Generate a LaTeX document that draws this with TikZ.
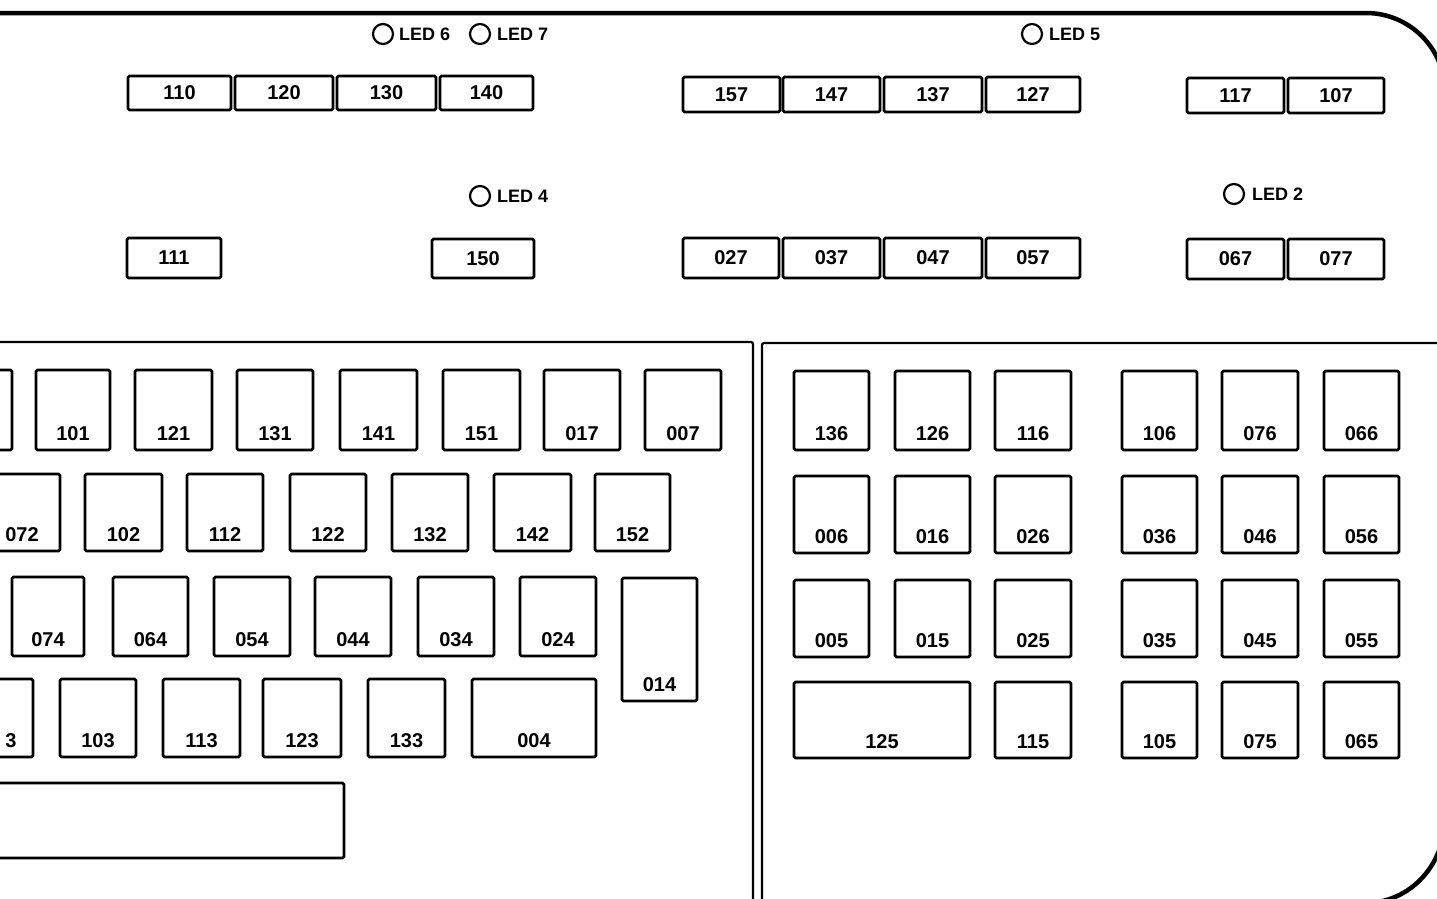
\documentclass[tikz,border=0pt]{standalone}
\usepackage{fontspec}
\setmainfont{Liberation Sans}
\usetikzlibrary{fit}
\tikzset{
 keybox/.style={draw, line width=2.7pt, rounded corners=1.5pt, inner sep=0pt, outer sep=0pt},
 lab/.style={font=\fontsize{20}{20}\selectfont\bfseries, inner sep=0pt, anchor=base},
 flab/.style={font=\fontsize{20}{20}\selectfont\bfseries, inner sep=0pt},
 ledc/.style={draw, circle, line width=2.2pt, minimum size=20pt, inner sep=0pt},
 ledt/.style={font=\fontsize{18}{18}\selectfont\bfseries, inner sep=0pt, anchor=west},
 frameline/.style={line width=4.5pt},
 panel/.style={line width=2.2pt, rounded corners=2pt},
}
% bottom-labelled key: name, x1, y1, x2, y2, label
\newcommand\bkey[6]{\node[keybox, fit={(#2,#3) (#4,#5)}] (k#1) {};
  \node[lab] (l#1) at ([yshift=10pt]k#1.south) {#6};}
% centre-labelled key
\newcommand\fkey[6]{\node[keybox, fit={(#2,#3) (#4,#5)}] (k#1) {};
  \node[flab] (l#1) at (k#1.center) {#6};}
\begin{document}
\begin{tikzpicture}[x=1pt, y=-1pt]
\useasboundingbox (0,0) rectangle (1437,898);
\clip (0,0) rectangle (1437,898);
\fill[white] (0,0) rectangle (1437,898);

% outer frame
\draw[frameline] (-5,13) -- (1366,13) .. controls (1409.6,13) and (1445,48.4) .. (1445,92)
  -- (1445,818) .. controls (1445,865) and (1410,903) .. (1365,903) -- (-5,903);

% inner panels
\draw[panel] (-5,342) -- (753,342) -- (753,905);
\draw[panel] (1445,343) -- (762,343) -- (762,905);

% LEDs
\node[ledc] (c6) at (383,34) {};  \node[ledt] (t6) at (399,34) {LED 6};
\node[ledc] (c7) at (480,34) {};  \node[ledt] (t7) at (497,34) {LED 7};
\node[ledc] (c5) at (1032,34) {}; \node[ledt] (t5) at (1049,34) {LED 5};
\node[ledc] (c4) at (480,196) {}; \node[ledt] (t4) at (497,196) {LED 4};
\node[ledc] (c2) at (1234,194) {};\node[ledt] (t2) at (1252,194) {LED 2};

% top function keys
\fkey{110}{128}{76}{231}{110}{110}
\fkey{120}{235}{76}{333}{110}{120}
\fkey{130}{337}{76}{436}{110}{130}
\fkey{140}{440}{76}{533}{110}{140}
\fkey{157}{683}{77}{780}{112}{157}
\fkey{147}{783}{77}{880}{112}{147}
\fkey{137}{884}{77}{982}{112}{137}
\fkey{127}{986}{77}{1080}{112}{127}
\fkey{117}{1187}{78}{1284}{113}{117}
\fkey{107}{1288}{78}{1384}{113}{107}

% second row
\fkey{111}{127}{238}{221}{278}{111}
\fkey{150}{432}{239}{534}{278}{150}
\fkey{027}{683}{238}{779}{278}{027}
\fkey{037}{783}{238}{880}{278}{037}
\fkey{047}{884}{238}{982}{278}{047}
\fkey{057}{986}{238}{1080}{278}{057}
\fkey{067}{1187}{239}{1284}{279}{067}
\fkey{077}{1288}{239}{1384}{279}{077}

% left block, row 1
\node[keybox, fit={(-64,370) (12,450)}] (kp1) {};
\bkey{101}{36}{370}{110}{450}{101}
\bkey{121}{135}{370}{212}{450}{121}
\bkey{131}{237}{370}{313}{450}{131}
\bkey{141}{340}{370}{417}{450}{141}
\bkey{151}{443}{370}{520}{450}{151}
\bkey{017}{544}{370}{620}{450}{017}
\bkey{007}{645}{370}{721}{450}{007}
% row 2
\bkey{072}{-16}{474}{60}{551}{072}
\bkey{102}{85}{474}{162}{551}{102}
\bkey{112}{187}{474}{263}{551}{112}
\bkey{122}{290}{474}{366}{551}{122}
\bkey{132}{392}{474}{468}{551}{132}
\bkey{142}{494}{474}{571}{551}{142}
\bkey{152}{595}{474}{670}{551}{152}
% row 3
\bkey{074}{12}{577}{84}{656}{074}
\bkey{064}{113}{577}{188}{656}{064}
\bkey{054}{214}{577}{290}{656}{054}
\bkey{044}{315}{577}{391}{656}{044}
\bkey{034}{418}{577}{494}{656}{034}
\bkey{024}{520}{577}{596}{656}{024}
\bkey{014}{622}{578}{697}{701}{014}
% row 4
\node[keybox, fit={(-43,679) (33,757)}] (kp4) {};
\node[lab] (lp4) at (11,747) {3};
\bkey{103}{60}{679}{136}{757}{103}
\bkey{113}{163}{679}{240}{757}{113}
\bkey{123}{263}{679}{341}{757}{123}
\bkey{133}{368}{679}{445}{757}{133}
\bkey{004}{472}{679}{596}{757}{004}
% row 5
\node[keybox, fit={(-20,783) (344,858)}] (kp5) {};

% right block
\bkey{136}{794}{371}{869}{450}{136}
\bkey{126}{895}{371}{970}{450}{126}
\bkey{116}{995}{371}{1071}{450}{116}
\bkey{106}{1122}{371}{1197}{450}{106}
\bkey{076}{1222}{371}{1298}{450}{076}
\bkey{066}{1324}{371}{1399}{450}{066}

\bkey{006}{794}{476}{869}{553}{006}
\bkey{016}{895}{476}{970}{553}{016}
\bkey{026}{995}{476}{1071}{553}{026}
\bkey{036}{1122}{476}{1197}{553}{036}
\bkey{046}{1222}{476}{1298}{553}{046}
\bkey{056}{1324}{476}{1399}{553}{056}

\bkey{005}{794}{580}{869}{657}{005}
\bkey{015}{895}{580}{970}{657}{015}
\bkey{025}{995}{580}{1071}{657}{025}
\bkey{035}{1122}{580}{1197}{657}{035}
\bkey{045}{1222}{580}{1298}{657}{045}
\bkey{055}{1324}{580}{1399}{657}{055}

\bkey{125}{794}{682}{970}{758}{125}
\bkey{115}{995}{682}{1071}{758}{115}
\bkey{105}{1122}{682}{1197}{758}{105}
\bkey{075}{1222}{682}{1298}{758}{075}
\bkey{065}{1324}{682}{1399}{758}{065}
\end{tikzpicture}
\end{document}
